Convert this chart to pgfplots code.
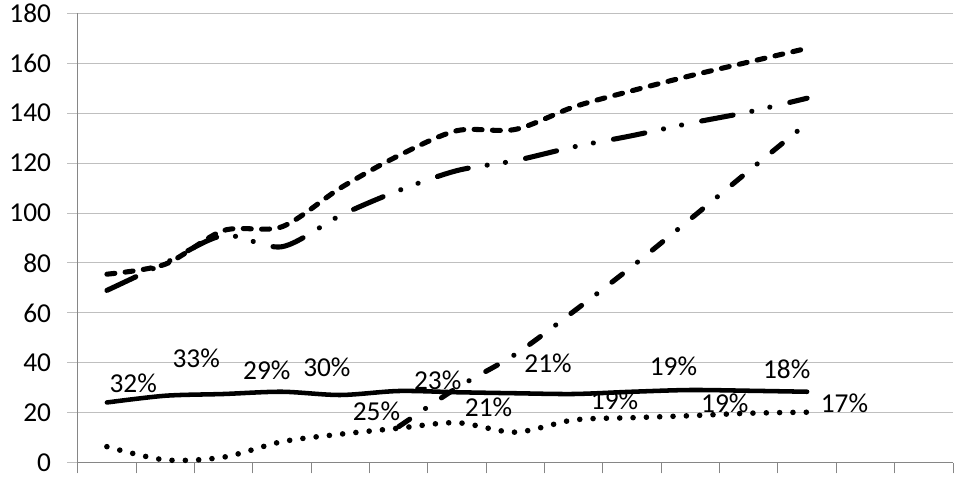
\documentclass[border=0pt]{standalone}
\usepackage{pgfplots}
\pgfplotsset{compat=1.18}
\usepackage{fontspec}
\setmainfont{Carlito}
\definecolor{gridgray}{HTML}{BFBFBF}
\definecolor{axisgray}{HTML}{868686}
\tikzset{lbl/.style={inner sep=0, font=\fontsize{20.5}{24}\selectfont}}

\begin{document}
\begin{tikzpicture}
\begin{axis}[
  scale only axis,
  width=656.5pt, height=337pt,
  xmin=0, xmax=15, ymin=0, ymax=180,
  axis x line*=bottom, axis y line*=left,
  axis line style={axisgray, line width=0.75pt},
  xtick={0,...,15}, xticklabels={},
  ytick={0,20,...,180},
  ymajorgrids, grid style={gridgray, line width=0.75pt},
  tick align=outside, major tick length=8pt,
  xtick style={axisgray, line width=0.75pt},
  ytick style={gridgray, line width=0.75pt},
  tick label style={font=\fontsize{20.5}{24}\selectfont},
  /pgf/number format/assume math mode=true,
  yticklabel style={xshift=-8.5pt},
  clip=false,
  every axis plot/.append style={black, smooth, tension=0.5, line cap=round, line join=round},
]
\coordinate (bl) at (rel axis cs:0,0);
\coordinate (tr) at (rel axis cs:1,1);

% data labels
\node[lbl] at (axis cs:0.95,31.8) {32\%};
\node[lbl] at (axis cs:2.03,41.8) {33\%};
\node[lbl] at (axis cs:3.24,37.1) {29\%};
\node[lbl] at (axis cs:4.27,38.0) {30\%};
\node[lbl] at (axis cs:6.17,33.1) {23\%};
\node[lbl] at (axis cs:8.06,39.8) {21\%};
\node[lbl] at (axis cs:10.21,38.4) {19\%};
\node[lbl] at (axis cs:12.15,37.4) {18\%};
\node[lbl] at (axis cs:5.12,20.4) {25\%};
\node[lbl] at (axis cs:7.04,22.0) {21\%};
\node[lbl] at (axis cs:9.20,24.8) {19\%};
\node[lbl] at (axis cs:11.09,23.8) {19\%};
\node[lbl] at (axis cs:13.14,23.8) {17\%};

% dashed
\addplot[line width=3.8pt, dash pattern=on 6pt off 7.75pt] coordinates {
(0.5,75.5) (1.5,79.5) (2.5,93) (3.5,94.5) (4.5,110) (5.5,123) (6.5,133)
(7.5,133.5) (8.5,142.5) (9.5,149) (10.5,155) (11.5,160.5) (12.5,166)};
% long dash dot dot
\addplot[line width=3.8pt, dash pattern=on 24pt off 14.3pt on 0.1pt off 13.75pt on 0.1pt off 15.3pt] coordinates {
(0.5,69) (1.5,80) (2.5,91) (3.5,86.5) (4.5,99) (5.5,109) (6.5,117)
(7.5,121) (8.5,126.5) (9.5,131) (10.5,136) (11.5,140.5) (12.5,146)};
% dash dot
\addplot[line width=3.8pt, dash pattern=on 10pt off 14.3pt on 0.1pt off 14.3pt] coordinates {
(5.5,14.4) (6.5,30) (7.5,43.4) (8.5,60.6) (9.5,78.6) (10.5,97.6) (11.5,116.9) (12.5,136)};
% solid
\addplot[line width=3.4pt] coordinates {
(0.5,24.1) (1.5,26.8) (2.5,27.5) (3.5,28.4) (4.5,27.1) (5.5,28.7) (6.5,28.2)
(7.5,27.8) (8.5,27.5) (9.5,28.4) (10.5,29.1) (11.5,28.8) (12.5,28.4)};
% dotted
\addplot[line width=4.2pt, dash pattern=on 0pt off 10pt] coordinates {
(0.5,6.4) (1.5,1.1) (2.5,2.2) (3.5,8.4) (4.5,11.4) (5.5,13.8) (6.5,16)
(7.5,12.2) (8.5,17.1) (9.5,18) (10.5,18.8) (11.5,19.8) (12.5,20.2)};
\end{axis}
\pgfresetboundingbox
\path[use as bounding box] ([shift={(-58.3pt,-12.2pt)}]bl) rectangle ([shift={(3.75pt,10pt)}]tr);
\end{tikzpicture}
\end{document}
